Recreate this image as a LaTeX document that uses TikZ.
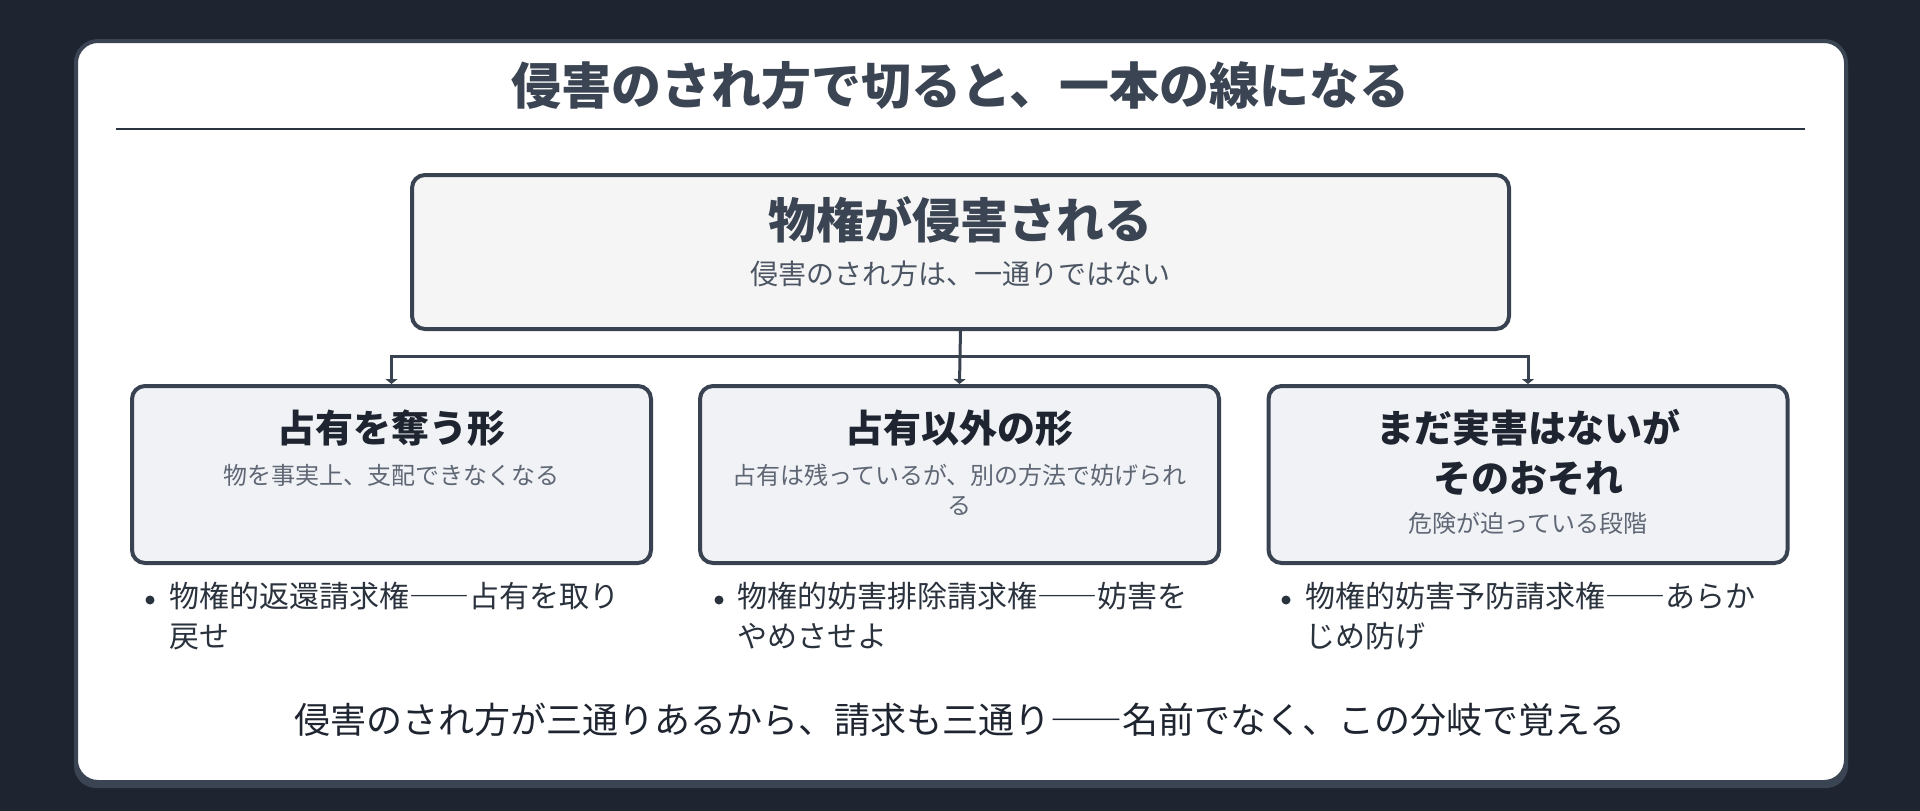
\documentclass[tikz,border=0pt]{standalone}
\usepackage{fontspec}
\setmainfont{Noto Sans CJK JP}
\newfontfamily\fullwidth[RawFeature=+fwid]{Noto Sans CJK JP}
\usetikzlibrary{arrows.meta, positioning}

\definecolor{bgdark}{HTML}{1E2530}
\definecolor{cardline}{HTML}{3A4453}
\definecolor{boxline}{HTML}{394250}
\definecolor{headcol}{HTML}{3A4452}
\definecolor{rulecol}{HTML}{2B3340}
\definecolor{topfill}{HTML}{F5F5F5}
\definecolor{formfill}{HTML}{F0F2F5}
\definecolor{darktext}{HTML}{1F2530}
\definecolor{graytext}{HTML}{4B5563}
\definecolor{softtext}{HTML}{5F6775}
\definecolor{bodytext}{HTML}{2A323D}

\newcommand{\longdash}{{\fullwidth ——}}

\begin{document}
\begin{tikzpicture}[x=1pt, y=-1pt,
    topbox/.style={draw=boxline, fill=topfill, line width=4pt, rounded corners=13pt,
        minimum width=1097pt, minimum height=154pt, inner sep=0pt},
    formbox/.style={draw=boxline, fill=formfill, line width=4pt, rounded corners=13pt,
        minimum width=519pt, minimum height=177pt, inner sep=0pt},
    headline/.style={text=headcol, inner sep=0pt, font=\fontsize{50pt}{60pt}\selectfont\bfseries},
    bigtitle/.style={text=headcol, inner sep=0pt, font=\fontsize{48pt}{58pt}\selectfont\bfseries},
    formtitle/.style={text=darktext, inner sep=0pt, align=center, font=\fontsize{38pt}{50pt}\selectfont\bfseries},
    topsub/.style={text=graytext, inner sep=0pt, font=\fontsize{28pt}{34pt}\selectfont},
    formsub/.style={text=softtext, inner sep=0pt, align=center, font=\fontsize{24pt}{30pt}\selectfont},
    itemtext/.style={text=bodytext, inner sep=0pt, align=left, anchor=north west, font=\fontsize{30pt}{40pt}\selectfont},
    closing/.style={text=darktext, inner sep=0pt, font=\fontsize{36pt}{44pt}\selectfont},
    link/.style={draw=boxline, line width=3pt}]

    % Background and card
    \fill[bgdark] (0,0) rectangle (1920,811);
    \fill[cardline, rounded corners=22pt] (74,44) rectangle (1848,788);
    \filldraw[fill=white, draw=cardline, line width=4pt, rounded corners=22pt]
        (76,41) rectangle (1846,782);

    % Title
    \node[headline] (title) at (960,86) {侵害のされ方で切ると、一本の線になる};
    \draw[rulecol, line width=2pt] (116,129) -- (1805,129);

    % Top box
    \node[topbox] (harm) at (960.5,252) {};
    \node[bigtitle] (harmtitle) at (960,220) {物権が侵害される};
    \node[topsub] (harmsub) at (960,274) {侵害のされ方は、一通りではない};

    % Three forms
    \node[formbox] (take) at (391.5,474.5) {};
    \node[formbox] (other) at (959.5,474.5) {};
    \node[formbox] (risk) at (1528,474.5) {};

    \node[formtitle] (taketitle) at (391.5,428) {占有を奪う形};
    \node[formsub] (takesub) at (391.5,475) {物を事実上、支配できなくなる};

    \node[formtitle] (othertitle) at (959.5,428) {占有以外の形};
    \node[formsub] (othersub) at (959.5,490) {占有は残っているが、別の方法で妨げられ\\る};

    \node[formtitle] (risktitle) at (1528,452) {まだ実害はないが\\そのおそれ};
    \node[formsub] (risksub) at (1528,523) {危険が迫っている段階};

    % Connectors
    \coordinate (fork) at (960,356);
    \draw[link] (harm.south) -- (fork);
    \draw[link, -{Triangle[width=12pt,length=5pt]}] (fork) -| (take.north);
    \draw[link, -{Triangle[width=12pt,length=5pt]}] (fork) -- (other.north);
    \draw[link, -{Triangle[width=12pt,length=5pt]}] (fork) -| (risk.north);

    % Claims under each form
    \fill[bodytext] (150,600) circle (4.5pt);
    \node[itemtext] (takeitem) at (169,582) {物権的返還請求権\longdash 占有を取り\\戻せ};
    \fill[bodytext] (719,600) circle (4.5pt);
    \node[itemtext] (otheritem) at (737,582) {物権的妨害排除請求権\longdash 妨害を\\やめさせよ};
    \fill[bodytext] (1286,600) circle (4.5pt);
    \node[itemtext] (riskitem) at (1305,582) {物権的妨害予防請求権\longdash あらか\\じめ防げ};

    % Closing line
    \node[closing] (summary) at (960,720) {侵害のされ方が三通りあるから、請求も三通り\longdash 名前でなく、この分岐で覚える};
\end{tikzpicture}
\end{document}
